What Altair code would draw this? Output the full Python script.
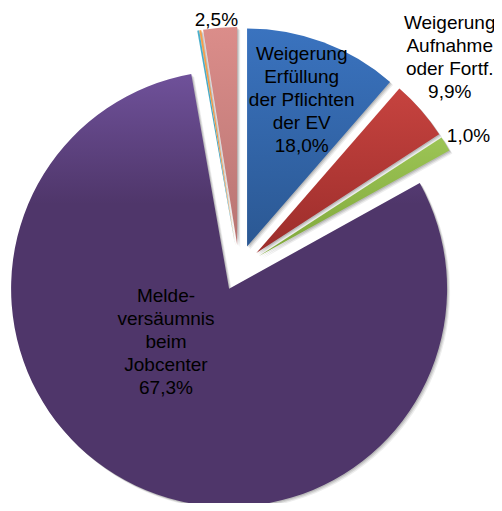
import altair as alt
import pandas as pd

# slice order clockwise from 12 o'clock
categories = [
    "Weigerung Erfüllung der Pflichten der EV",
    "Weigerung Aufnahme oder Fortf.",
    "Sonstiges 1",
    "Meldeversäumnis beim Jobcenter",
    "Sonstiges 2",
    "Sonstiges 3",
    "Sonstiges 4",
]
# slice sizes as drawn in the picture (degrees of the circle)
slice_sizes = [41, 16, 4, 289, 0.5, 0.5, 9]
labels = [
    "Weigerung\nErfüllung\nder Pflichten\nder EV\n18,0%",
    "Weigerung\nAufnahme\noder Fortf.\n9,9%",
    "1,0%",
    "Melde-\nversäumnis\nbeim\nJobcenter\n67,3%",
    "",
    "",
    "2,5%",
]

# styles: (top colour, bottom colour) of each slice's vertical gradient
grad_colors = [
    ("#3a73bf", "#2b5893"),
    ("#c6433f", "#9c2d2b"),
    ("#9cc455", "#80a83b"),
    ("#6f519a", "#4f366a"),
    ("#4bb0cc", "#3a97b0"),
    ("#f8a04a", "#e98a2c"),
    ("#db8d8a", "#b87573"),
]
label_place = {  # angle (deg), radius (px) from pie centre
    categories[0]: (20.5, 179),
    categories[1]: (45, 298),
    categories[2]: (60, 265),
    categories[3]: (224.6, 104),
    categories[4]: (350, 240),
    categories[5]: (351, 240),
    categories[6]: (354.8, 249),
}
CX, CY, R, EXPLODE = 231, 260, 218, 23
LINE_H = 23

df = pd.DataFrame({
    "cat": categories,
    "value": slice_sizes,
    "label": labels,
    "order": list(range(len(categories))),
    "la": [label_place[c][0] for c in categories],
    "lr": [label_place[c][1] for c in categories],
})

base = alt.Chart(df).transform_joinaggregate(
    total="sum(value)"
).transform_window(
    cum="sum(value)", sort=[alt.SortField("order")], frame=[None, 0]
).transform_calculate(
    start="(datum.cum - datum.value) / datum.total * 2 * PI",
    end="datum.cum / datum.total * 2 * PI",
).transform_calculate(
    mid="(datum.start + datum.end) / 2"
).transform_calculate(
    px=f"{CX} + {EXPLODE} * sin(datum.mid)",
    py=f"{CY} - {EXPLODE} * cos(datum.mid)",
    lx=f"{CX} + datum.lr * sin(datum.la * PI / 180)",
    ly=f"{CY} - datum.lr * cos(datum.la * PI / 180) - (length(split(datum.label, '\\n')) - 1) * {LINE_H} / 2",
)

enc = dict(
    theta=alt.Theta("start:Q", scale=None),
    theta2="end:Q",
    x=alt.X("px:Q", scale=None),
    y=alt.Y("py:Q", scale=None),
)

layers = []
# soft shadow
for dx, dy, op in [(3, 3, 0.07), (2, 2, 0.1), (1, 1, 0.12)]:
    layers.append(
        base.transform_calculate(sx=f"datum.px + {dx}", sy=f"datum.py + {dy}")
        .mark_arc(outerRadius=R, fill="#000000", fillOpacity=op)
        .encode(
            theta=alt.Theta("start:Q", scale=None),
            theta2="end:Q",
            x=alt.X("sx:Q", scale=None),
            y=alt.Y("sy:Q", scale=None),
        )
    )

for cat, (top, bottom) in zip(categories, grad_colors):
    layers.append(
        base.transform_filter(alt.datum.cat == cat)
        .mark_arc(
            outerRadius=R,
            fill=alt.Gradient(
                gradient="linear", x1=0, y1=0, x2=0, y2=1,
                stops=[
                    alt.GradientStop(offset=0, color=top),
                    alt.GradientStop(offset=0.3, color=bottom),
                    alt.GradientStop(offset=1, color=bottom),
                ] if cat == categories[3] else [
                    alt.GradientStop(offset=0, color=top),
                    alt.GradientStop(offset=1, color=bottom),
                ],
            ),
        )
        .encode(**enc)
    )

text = base.mark_text(
    font="Liberation Sans", fontSize=19, lineBreak="\n", lineHeight=LINE_H,
    align="center", baseline="middle", color="#000000",
).encode(
    x=alt.X("lx:Q", scale=None),
    y=alt.Y("ly:Q", scale=None),
    text="label:N",
)
layers.append(text)

chart = alt.layer(*layers).properties(
    width=486, height=495, padding=0, autosize="none"
).configure_view(stroke=None)

chart.save("out.html", embed_options={"renderer": "svg", "actions": False})
